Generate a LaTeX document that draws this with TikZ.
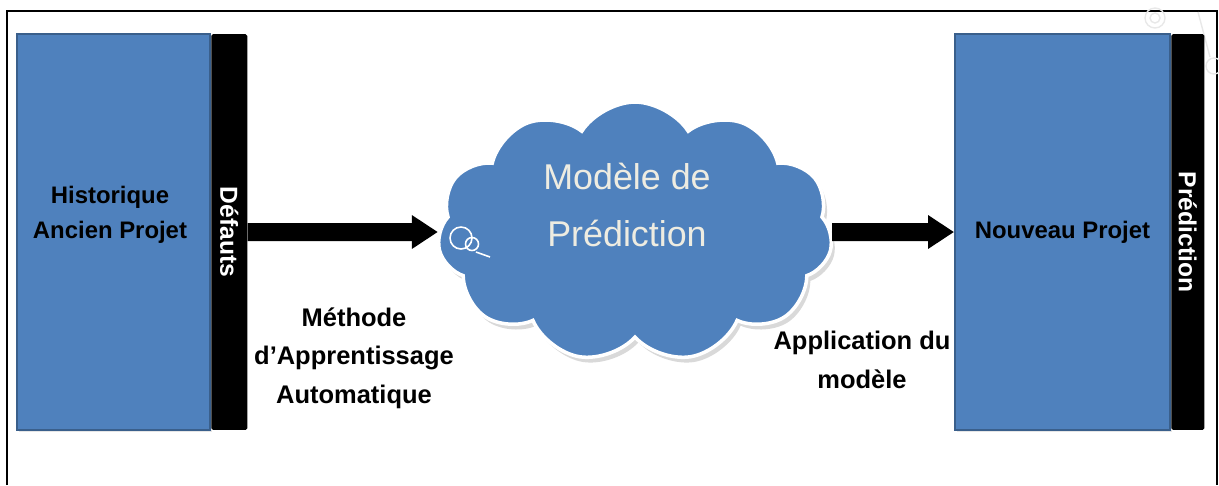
\documentclass[tikz,border=0pt]{standalone}
\usepackage{fontspec}
\setmainfont{Liberation Sans}
\usetikzlibrary{positioning,arrows.meta,shapes.symbols,shadows}
\definecolor{ppblue}{HTML}{4F81BD}
\definecolor{ppborder}{HTML}{3A5F8B}
\definecolor{pptext}{HTML}{EEECE1}
\definecolor{ppfaint}{HTML}{E8E8E8}
\tikzset{%
frame/.style={draw=black,line width=1.1pt},
projbox/.style={draw=ppborder,fill=ppblue,line width=1.1pt,minimum height=7.92cm,inner sep=0pt,
  font=\bfseries\fontsize{13.6}{19.8}\selectfont,align=center,
  drop shadow={opacity=0.2,shadow xshift=1pt,shadow yshift=-1pt}},
bandbox/.style={fill=black,rounded corners=1pt,minimum height=7.92cm,inner sep=0pt},
boxtext/.style={font=\bfseries\fontsize{13.6}{19.8}\selectfont,align=center,inner sep=0pt},
bandtext/.style={text=white,font=\bfseries\fontsize{14}{16}\selectfont,rotate=-90,inner sep=0pt},
cloudbox/.style={cloud,cloud puffs=11,cloud puff arc=115,aspect=1.53,fill=ppblue,draw=white,line width=2pt,
  minimum width=7.9cm,minimum height=5.2cm,
  drop shadow={opacity=0.3,shadow xshift=2pt,shadow yshift=-3pt}},
cloudtext/.style={text=pptext,font=\fontsize{20.4}{32}\selectfont,align=center,inner sep=0pt},
cloudloop/.style={draw=white,line width=0.9pt},
flowarrow/.style={line width=0.36cm,-{Triangle[length=0.52cm,width=0.64cm]}},
legend/.style={font=\bfseries\fontsize{14.5}{21.8}\selectfont,align=center,inner sep=0pt},
faint/.style={draw=ppfaint,line width=0.8pt}
}
\begin{document}
\begin{tikzpicture}[x=0.02cm,y=-0.02cm]
\useasboundingbox (0,0) rectangle (1219,485);
\draw[frame] (7,485) -- (7,11) -- (1217,11) -- (1217,485);
\draw[faint] (1155,18) circle (0.2cm) (1155,18) circle (0.1cm) (1214,66) circle (0.16cm)
  (1210,57) -- (1198,12);

% ancien projet
\node[projbox,minimum width=3.86cm] (ancien) at (113.5,232) {};
\node[bandbox,minimum width=0.72cm,right=0pt of ancien] (defauts) {};
\node[boxtext] (ancientxt) at (110,215) {Historique\\Ancien Projet};
\node[bandtext] (defautstxt) at (defauts) {Défauts};

% modele
\node[cloudbox] (modele) at (635,232) {};
\node[cloudtext] (modeletxt) at (627,205) {Modèle de\\Prédiction};
\draw[cloudloop] (461,238) circle (0.22cm) (472,244) circle (0.13cm);
\draw[cloudloop] (476,252) -- (490,257);

% nouveau projet
\node[projbox,minimum width=4.3cm] (nouveau) at (1062.5,232) {Nouveau Projet};
\node[bandbox,minimum width=0.66cm,right=0pt of nouveau] (prediction) {};
\node[bandtext] (predictiontxt) at (prediction) {Prédiction};

\draw[flowarrow] (defauts.east) -- (modele.west);
\draw[flowarrow] (modele.east) -- (nouveau.west);

\node[legend] (methode) at (354,358) {Méthode\\d’Apprentissage\\Automatique};
\node[legend] (application) at (862,360) {Application du\\modèle};
\end{tikzpicture}
\end{document}
